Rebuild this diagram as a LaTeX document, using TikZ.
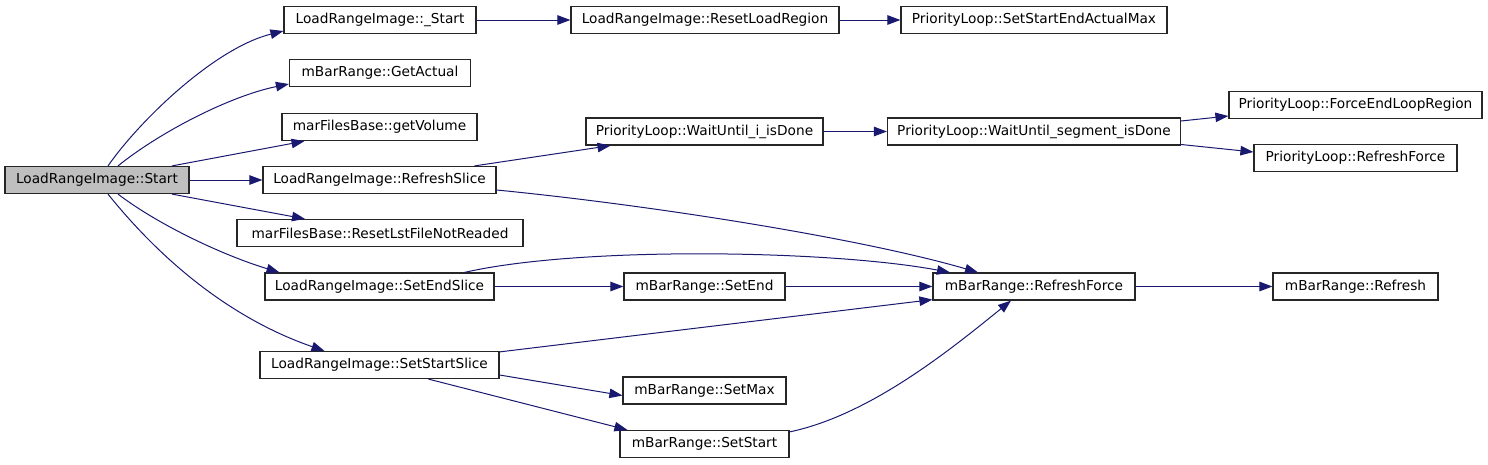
\documentclass[tikz,border=0pt]{standalone}
\usepackage{fontspec}
\setmainfont{DejaVu Sans}
\usetikzlibrary{arrows.meta}
\definecolor{edgec}{RGB}{25,25,112}
\definecolor{startfill}{RGB}{191,191,191}
\begin{document}
\begin{tikzpicture}[x=1pt,y=-1pt,
  box/.style={draw=black!85, line width=1.2pt, minimum height=27pt, inner sep=0pt,
    font=\fontsize{13.7}{16}\selectfont, fill=white},
  edge/.style={draw=edgec, line width=1pt, -{Triangle[length=13pt,width=9.5pt]}}]
\useasboundingbox (0,0) rectangle (1488,464);
% nodes
\node[box, fill=startfill, minimum width=184pt] (st) at (97,180) {LoadRangeImage::Start};
\node[box, minimum width=192pt] (s1) at (380,20) {LoadRangeImage::\_Start};
\node[box, minimum width=181pt] (ga) at (380,73) {mBarRange::GetActual};
\node[box, minimum width=195pt] (gv) at (379.5,127) {marFilesBase::getVolume};
\node[box, minimum width=233pt] (rs) at (379.5,180) {LoadRangeImage::RefreshSlice};
\node[box, minimum width=286pt] (rl) at (380,233) {marFilesBase::ResetLstFileNotReaded};
\node[box, minimum width=229pt] (se) at (379.5,286.5) {LoadRangeImage::SetEndSlice};
\node[box, minimum width=239pt] (ss) at (379.5,365) {LoadRangeImage::SetStartSlice};
\node[box, minimum width=268pt] (rlr) at (705,20) {LoadRangeImage::ResetLoadRegion};
\node[box, minimum width=266pt] (sea) at (1034,20) {PriorityLoop::SetStartEndActualMax};
\node[box, minimum width=237pt] (wi) at (704.5,131.5) {PriorityLoop::WaitUntil\_i\_isDone};
\node[box, minimum width=293pt] (ws) at (1034,131.5) {PriorityLoop::WaitUntil\_segment\_isDone};
\node[box, minimum width=253pt] (fe) at (1355.5,105) {PriorityLoop::ForceEndLoopRegion};
\node[box, minimum width=203pt] (prf) at (1355.5,158) {PriorityLoop::RefreshForce};
\node[box, minimum width=202pt] (mbr) at (1034,286.5) {mBarRange::RefreshForce};
\node[box, minimum width=161pt] (sen) at (704.5,286.5) {mBarRange::SetEnd};
\node[box, minimum width=163pt] (sm) at (704.5,390.5) {mBarRange::SetMax};
\node[box, minimum width=169pt] (sst) at (704.5,444) {mBarRange::SetStart};
\node[box, minimum width=165pt] (rf) at (1355.5,286.5) {mBarRange::Refresh};
% edges
\draw[edge] ([xshift=11pt]st.north) .. controls (140,120) and (215,48) .. ([yshift=-11pt]s1.west);
\draw[edge] ([xshift=21pt]st.north) .. controls (160,132) and (230,96) .. ([yshift=-11pt]ga.west);
\draw[edge] ([xshift=75pt]st.north) -- ([xshift=-75pt]gv.south);
\draw[edge] (st.east) -- (rs.west);
\draw[edge] ([xshift=75pt]st.south) -- ([xshift=-75pt]rl.north);
\draw[edge] ([xshift=21pt]st.south) .. controls (160,226) and (225,256) .. ([xshift=-100pt]se.north);
\draw[edge] ([xshift=11pt]st.south) .. controls (165,265) and (235,320) .. ([xshift=-55pt]ss.north);
\draw[edge] (s1.east) -- (rlr.west);
\draw[edge] (rlr.east) -- (sea.west);
\draw[edge] ([xshift=95pt]rs.north) -- ([xshift=-94pt]wi.south);
\draw[edge] ([yshift=-10pt]rs.east) .. controls (650,205) and (860,238) .. ([xshift=-56pt]mbr.north);
\draw[edge] (wi.east) -- (ws.west);
\draw[edge] ([yshift=10.5pt]ws.east) -- ([yshift=-11pt]fe.west);
\draw[edge] ([yshift=-13pt]ws.east) -- ([yshift=6pt]prf.west);
\draw[edge] ([xshift=85pt]se.north) .. controls (580,246) and (830,250) .. ([xshift=-84pt]mbr.north);
\draw[edge] (se.east) -- (sen.west);
\draw[edge] (sen.east) -- (mbr.west);
\draw[edge] ([yshift=-1pt]ss.north east) -- ([yshift=1pt]mbr.south west);
\draw[edge] ([yshift=-10pt]ss.east) -- ([yshift=-5pt]sm.west);
\draw[edge] ([xshift=49pt]ss.south) -- ([xshift=8pt]sst.north west);
\draw[edge] ([yshift=-2pt]sst.north east) .. controls (870,415) and (950,350) .. ([xshift=-23pt]mbr.south);
\draw[edge] (mbr.east) -- (rf.west);
\end{tikzpicture}
\end{document}
